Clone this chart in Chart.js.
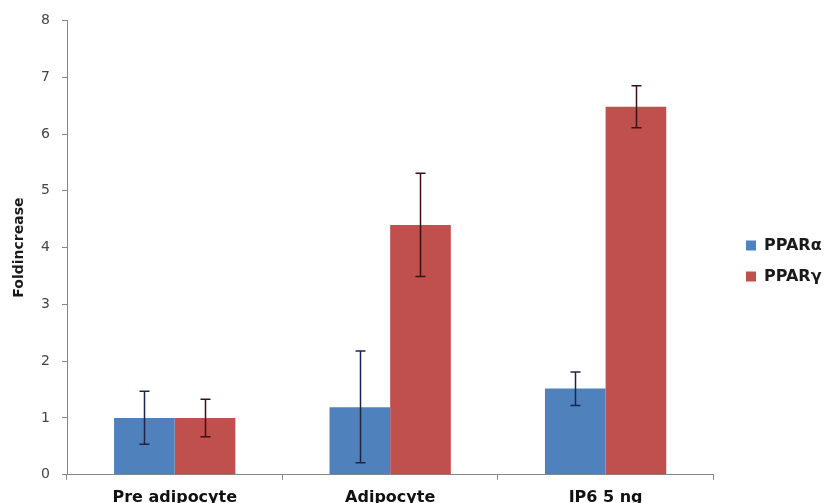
<!DOCTYPE html>
<html><head><meta charset="utf-8">
<script src="https://cdn.jsdelivr.net/npm/chart.js@4"></script>
<style>html,body{margin:0;padding:0;overflow:hidden;background:#fff}#wrap{width:827px;height:515px}</style>
</head><body><div id="wrap"><canvas id="c" width="827" height="515"></canvas></div>
<script>
const categories = ['Pre adipocyte', 'Adipocyte', 'IP6 5 ng'];
const seriesNames = ['PPARα', 'PPARγ'];
const pparAlpha = [1.0, 1.19, 1.52];
const pparAlphaLow = [0.54, 0.21, 1.22];
const pparAlphaHigh = [1.47, 2.18, 1.81];
const pparGamma = [1.0, 4.40, 6.48];
const pparGammaLow = [0.67, 3.49, 6.11];
const pparGammaHigh = [1.33, 5.31, 6.85];
const yTicks = [0, 1, 2, 3, 4, 5, 6, 7, 8];

const errorBars = {
  id: 'errorBars',
  afterDatasetsDraw(chart) {
    const ctx = chart.ctx, ys = chart.scales.y;
    chart.data.datasets.forEach((ds, di) => {
      const meta = chart.getDatasetMeta(di);
      meta.data.forEach((bar, i) => {
        const x = Math.round(bar.x) + 0.5;
        const yl = ys.getPixelForValue(ds.errLow[i]);
        const yh = ys.getPixelForValue(ds.errHigh[i]);
        ctx.save();
        ctx.strokeStyle = ds.errColor;
        ctx.lineWidth = 1.5;
        ctx.beginPath();
        ctx.moveTo(x, yl); ctx.lineTo(x, yh);
        ctx.moveTo(x - 5, yl); ctx.lineTo(x + 5, yl);
        ctx.moveTo(x - 5, yh); ctx.lineTo(x + 5, yh);
        ctx.stroke();
        ctx.restore();
      });
    });
  }
};

const legendPlace = {
  id: 'legendPlace',
  afterLayout(chart) {
    const lg = chart.legend;
    if (!lg) return;
    const pad = lg.options.labels.padding;
    const w = lg.right - lg.left;
    lg.left = 746 - pad;
    lg.right = lg.left + w;
    lg.top -= 3;
    lg.bottom -= 3;
  }
};

new Chart(document.getElementById('c'), {
  type: 'bar',
  data: {
    labels: categories,
    datasets: [
      { label: seriesNames[0], data: pparAlpha, backgroundColor: '#4f81bd', errLow: pparAlphaLow, errHigh: pparAlphaHigh, errColor: '#1c2748' },
      { label: seriesNames[1], data: pparGamma, backgroundColor: '#c0504d', errLow: pparGammaLow, errHigh: pparGammaHigh, errColor: '#3a1212' }
    ]
  },
  options: {
    responsive: false,
    animation: false,
    layout: { padding: { left: 0, right: 13, top: 13, bottom: 0 } },
    datasets: { bar: { categoryPercentage: 0.563, barPercentage: 1.0 } },
    plugins: {
      tooltip: { enabled: false },
      legend: {
        position: 'right',
        labels: {
          boxWidth: 10, boxHeight: 10, padding: 15,
          color: '#1a1a1a',
          font: { family: 'DejaVu Sans', size: 16, weight: 'bold' }
        }
      }
    },
    scales: {
      x: {
        grid: { drawOnChartArea: false, drawTicks: true, tickLength: 5, color: '#868686', offset: true },
        border: { display: true, color: '#868686', width: 1 },
        ticks: { color: '#111', padding: 8, font: { family: 'DejaVu Sans', size: 16, weight: 'bold' } }
      },
      y: {
        min: 0, max: 8,
        afterBuildTicks(s) { s.ticks = yTicks.map(v => ({ value: v })); },
        afterFit(s) { s.width = 67; },
        grid: { drawOnChartArea: false, drawTicks: true, tickLength: 5, color: '#868686' },
        border: { display: true, color: '#868686', width: 1 },
        ticks: { color: '#444', padding: 12, font: { family: 'DejaVu Sans', size: 14 } },
        title: { display: true, text: 'Foldincrease', color: '#1a1a1a', padding: { top: 11, bottom: 0 }, font: { family: 'DejaVu Sans', size: 14, weight: 'bold' } }
      }
    }
  },
  plugins: [errorBars, legendPlace]
});
</script>
</body></html>
